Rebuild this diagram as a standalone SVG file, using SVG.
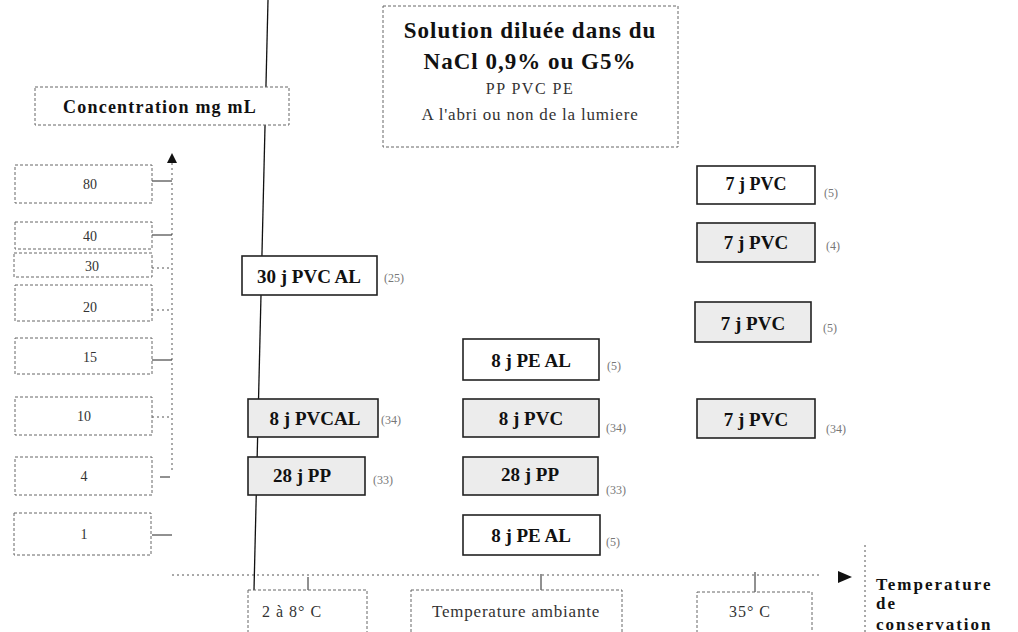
<svg xmlns="http://www.w3.org/2000/svg" width="1018" height="632" viewBox="0 0 1018 632">
<style>
.dash{fill:#fff;stroke:#666;stroke-width:1;stroke-dasharray:3 2}
.nb{fill:#fff;stroke:#222;stroke-width:1.6}
.ng{fill:#ececec;stroke:#222;stroke-width:1.6}
.tb{font-family:"Liberation Serif",serif;font-weight:bold;fill:#111;text-anchor:middle}
.tr{font-family:"Liberation Serif",serif;fill:#333;text-anchor:middle}
.tl{font-family:"Liberation Serif",serif;font-weight:bold;fill:#111;text-anchor:start;font-size:17px;letter-spacing:2px}
.ref{font-family:"Liberation Serif",serif;fill:#777;font-size:12px}
.conn{stroke:#222;stroke-width:1;fill:none}
.cd{stroke:#555;stroke-width:1;fill:none;stroke-dasharray:2 3}
</style>
<defs>
<marker id="ah" markerWidth="10" markerHeight="10" refX="8" refY="5" orient="auto" markerUnits="userSpaceOnUse">
<path d="M0,0 L10,5 L0,10 z" fill="#111"/>
</marker>
</defs>
<rect width="1018" height="632" fill="#fff"/>

<g id="connectors">
<line class="cd" x1="172" y1="470" x2="172" y2="155" marker-end="url(#ah)"/>
<line class="conn" x1="152" y1="181" x2="172" y2="181"/>
<line class="conn" x1="152" y1="235" x2="172" y2="235"/>
<line class="cd" x1="152" y1="268" x2="172" y2="268"/>
<line class="cd" x1="152" y1="310" x2="172" y2="310"/>
<line class="conn" x1="152" y1="360" x2="172" y2="360"/>
<line class="cd" x1="152" y1="417" x2="172" y2="417"/>
<line class="conn" x1="160" y1="477" x2="170" y2="477"/>
<line class="conn" x1="152" y1="535" x2="172" y2="535"/>
<line class="cd" x1="172" y1="575" x2="820" y2="575"/>
<path d="M838,571 L852,577 L838,583 z" fill="#111"/>
<line class="conn" x1="308" y1="577" x2="308" y2="590"/>
<line class="conn" x1="541" y1="574" x2="541" y2="590"/>
<line class="conn" x1="755" y1="572" x2="755" y2="592"/>
<line stroke="#111" stroke-width="1.3" x1="268" y1="0" x2="253" y2="632"/>
</g>

<g id="concentration">
<rect class="dash" x="35" y="87" width="254" height="38"/>
<text class="tb" x="160" y="113" font-size="18" letter-spacing="1.2">Concentration mg mL</text>
</g>

<g id="solution">
<rect class="dash" x="383" y="6" width="295" height="141"/>
<text class="tb" x="530" y="38" font-size="23" letter-spacing="1">Solution diluée dans du</text>
<text class="tb" x="530" y="69" font-size="23" letter-spacing="1">NaCl 0,9% ou G5%</text>
<text class="tr" x="530" y="94" font-size="16" letter-spacing="1.5">PP PVC PE</text>
<text class="tr" x="530" y="120" font-size="17" letter-spacing="0.8">A l'abri ou non de la lumiere</text>
</g>

<g id="c80"><rect class="dash" x="15" y="165" width="137" height="38"/><text class="tr" x="90" y="189" font-size="14">80</text></g>
<g id="c40"><rect class="dash" x="15" y="222" width="137" height="27"/><text class="tr" x="90" y="241" font-size="14">40</text></g>
<g id="c30"><rect class="dash" x="14" y="253" width="138" height="24"/><text class="tr" x="92" y="271" font-size="14">30</text></g>
<g id="c20"><rect class="dash" x="15" y="285" width="137" height="36"/><text class="tr" x="90" y="312" font-size="14">20</text></g>
<g id="c15"><rect class="dash" x="15" y="338" width="137" height="36"/><text class="tr" x="90" y="362" font-size="14">15</text></g>
<g id="c10"><rect class="dash" x="15" y="397" width="137" height="38"/><text class="tr" x="84" y="421" font-size="14">10</text></g>
<g id="c4"><rect class="dash" x="15" y="457" width="137" height="38"/><text class="tr" x="84" y="481" font-size="14">4</text></g>
<g id="c1"><rect class="dash" x="14" y="513" width="137" height="42"/><text class="tr" x="84" y="539" font-size="14">1</text></g>

<g id="n30pvcal"><rect class="nb" x="242" y="256" width="135" height="39" stroke-width="2"/><text class="tb" x="309" y="283" font-size="19">30 j PVC AL</text><text class="ref" x="384" y="282">(25)</text></g>
<g id="n8pvcal"><rect class="ng" x="248" y="399" width="130" height="38"/><text class="tb" x="315" y="425" font-size="19">8 j PVCAL</text><text class="ref" x="381" y="424">(34)</text></g>
<g id="n28pp1"><rect class="ng" x="248" y="457" width="117" height="38"/><text class="tb" x="302" y="482" font-size="19">28 j PP</text><text class="ref" x="373" y="484">(33)</text></g>

<g id="n8peal1"><rect class="nb" x="463" y="339" width="136" height="41"/><text class="tb" x="531" y="367" font-size="19">8 j PE AL</text><text class="ref" x="607" y="370">(5)</text></g>
<g id="n8pvc"><rect class="ng" x="463" y="399" width="136" height="38"/><text class="tb" x="531" y="425" font-size="19">8 j PVC</text><text class="ref" x="606" y="432">(34)</text></g>
<g id="n28pp2"><rect class="ng" x="463" y="457" width="135" height="38"/><text class="tb" x="530" y="481" font-size="19">28 j PP</text><text class="ref" x="606" y="494">(33)</text></g>
<g id="n8peal2"><rect class="nb" x="463" y="515" width="137" height="40"/><text class="tb" x="531" y="542" font-size="19">8 j PE AL</text><text class="ref" x="606" y="546">(5)</text></g>

<g id="n7pvc1"><rect class="nb" x="697" y="166" width="118" height="38"/><text class="tb" x="756" y="190" font-size="18">7 j PVC</text><text class="ref" x="824" y="197">(5)</text></g>
<g id="n7pvc2"><rect class="ng" x="697" y="223" width="118" height="39"/><text class="tb" x="756" y="249" font-size="19">7 j PVC</text><text class="ref" x="826" y="250">(4)</text></g>
<g id="n7pvc3"><rect class="ng" x="695" y="302" width="116" height="40"/><text class="tb" x="753" y="330" font-size="19">7 j PVC</text><text class="ref" x="823" y="332">(5)</text></g>
<g id="n7pvc4"><rect class="ng" x="697" y="399" width="118" height="39"/><text class="tb" x="756" y="426" font-size="19">7 j PVC</text><text class="ref" x="826" y="433">(34)</text></g>

<g id="t28"><rect class="dash" x="248" y="590" width="119" height="50"/><text class="tr" x="292" y="617" font-size="16" letter-spacing="1">2 à 8° C</text></g>
<g id="tamb"><rect class="dash" x="411" y="590" width="211" height="50"/><text class="tr" x="516" y="617" font-size="17" letter-spacing="0.8">Temperature ambiante</text></g>
<g id="t35"><rect class="dash" x="697" y="592" width="115" height="48"/><text class="tr" x="750" y="617" font-size="16" letter-spacing="1">35° C</text></g>

<g id="tcons">
<line class="cd" x1="865" y1="545" x2="865" y2="632"/>
<text class="tl" x="876" y="590">Temperature</text>
<text class="tl" x="876" y="609">de</text>
<text class="tl" x="876" y="630">conservation</text>
</g>
</svg>
